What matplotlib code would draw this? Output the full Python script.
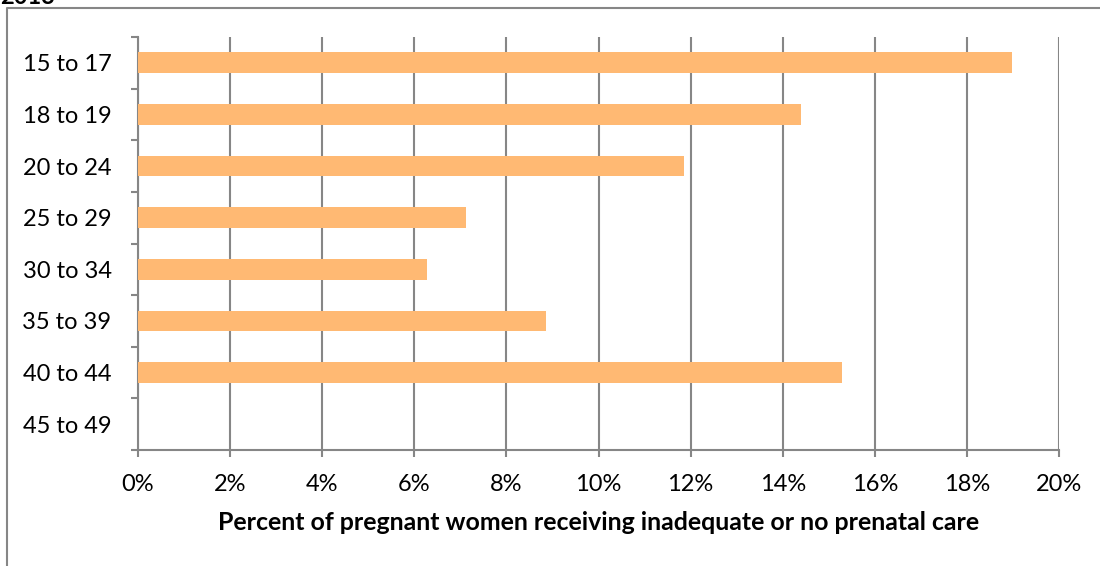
#!/usr/bin/env python3
"""
Inadequate or no prenatal care by age group
"""

import numpy as np
import matplotlib.pyplot as plt
from matplotlib.lines import Line2D
from matplotlib.ticker import FuncFormatter

age_groups = ["15 to 17", "18 to 19", "20 to 24", "25 to 29",
              "30 to 34", "35 to 39", "40 to 44", "45 to 49"]
pct_inadequate = [18.98, 14.40, 11.86, 7.12, 6.28, 8.86, 15.29, 0.0]
x_ticks = [0, 2, 4, 6, 8, 10, 12, 14, 16, 18, 20]

GRID = "#868686"
BAR = "#FFB973"

plt.rcParams['font.family'] = ['Lato', 'DejaVu Sans']

fig = plt.figure(figsize=(11, 5.66), dpi=100)
ax = fig.add_axes([138 / 1100, 1 - 450 / 566, (1059 - 138) / 1100, (450 - 37) / 566])

y = np.arange(len(age_groups))
ax.barh(y, pct_inadequate, height=0.4, color=BAR, zorder=3)

ax.set_xlim(0, 20)
ax.set_ylim(len(age_groups) - 0.5, -0.5)
ax.set_xticks(x_ticks)
ax.xaxis.set_major_formatter(FuncFormatter(lambda v, p: f"{v:.0f}%"))
ax.set_yticks(y)
ax.set_yticklabels(age_groups)
ax.set_yticks(np.arange(len(age_groups) + 1) - 0.5, minor=True)

ax.grid(axis='x', color=GRID, linewidth=1.5, zorder=0)
for side in ['top', 'right']:
    ax.spines[side].set_visible(False)
for side in ['left', 'bottom']:
    ax.spines[side].set_color(GRID)
    ax.spines[side].set_linewidth(1.5)

ax.tick_params(axis='y', which='major', length=0, pad=19, labelsize=17)
ax.tick_params(axis='y', which='minor', length=5, width=1.5, color=GRID)
ax.tick_params(axis='x', which='major', length=5, width=1.5, color=GRID,
               pad=12, labelsize=17)

ax.set_xlabel("Percent of pregnant women receiving inadequate or no prenatal care",
              fontsize=17.9, fontweight='bold', labelpad=12)

# outer chart border (only left and top edges are inside the crop)
fig.add_artist(Line2D([7 / 1100, 7 / 1100, 1.0], [0.0, 1 - 8 / 566, 1 - 8 / 566],
                      transform=fig.transFigure, color=GRID, linewidth=1.5))
fig.text(0.0, 1 - 4 / 566, "2013", fontsize=17, fontweight='bold', va='baseline')

fig.savefig('out.png', dpi=100)
